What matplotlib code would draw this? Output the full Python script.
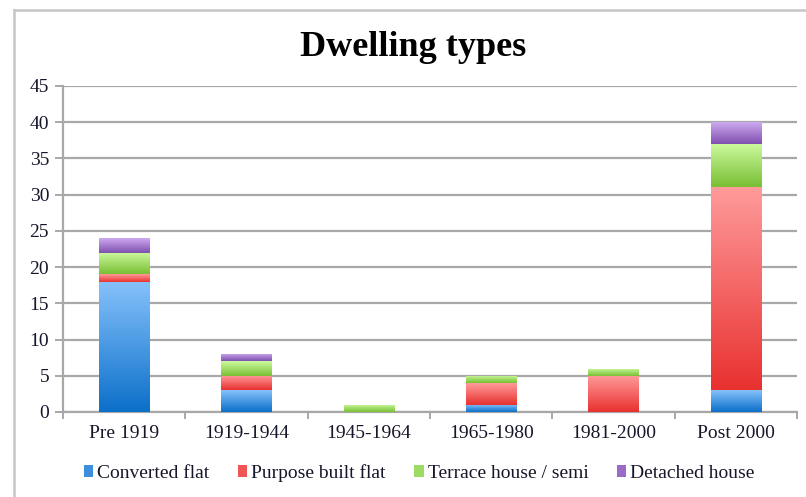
import numpy as np
import matplotlib
matplotlib.use("Agg")
import matplotlib.pyplot as plt
from matplotlib.colors import LinearSegmentedColormap
from matplotlib.patches import Patch
from matplotlib.lines import Line2D

categories = ["Pre 1919", "1919-1944", "1945-1964", "1965-1980", "1981-2000", "Post 2000"]
converted_flat = [18, 3, 0, 1, 0, 3]
purpose_built_flat = [1, 2, 0, 3, 5, 28]
terrace_semi = [3, 2, 1, 1, 1, 6]
detached_house = [2, 1, 0, 0, 0, 3]

series_names = ["Converted flat", "Purpose built flat", "Terrace house / semi", "Detached house"]
series_values = [converted_flat, purpose_built_flat, terrace_semi, detached_house]
# (top colour, bottom colour) of each segment's vertical gradient
series_gradients = [
    ("#86c2fb", "#0b6fc9"),
    ("#ff9b9b", "#e8312f"),
    ("#cdfa9f", "#78bf33"),
    ("#cdaaf0", "#7f4fae"),
]
legend_colors = ["#3d8fde", "#f05454", "#9edb62", "#9a6cc8"]

text_color = "#16162a"
grid_color = "#a8a8a8"
font = "Liberation Serif"

fig = plt.figure(figsize=(8.06, 4.97), dpi=100)
ax = fig.add_axes([63 / 806, 1 - 412 / 497, (797 - 63) / 806, (412 - 86) / 497])

x = np.arange(len(categories))
bottom = np.zeros(len(categories))
width = 0.41


def gradient_fill(patch, top_color, bottom_color):
    x0, y0 = patch.get_x(), patch.get_y()
    w, h = patch.get_width(), patch.get_height()
    if h <= 0:
        return
    cmap = LinearSegmentedColormap.from_list("seg", [bottom_color, top_color])
    grad = np.linspace(0, 1, 256).reshape(-1, 1)
    im = ax.imshow(grad, cmap=cmap, extent=[x0, x0 + w, y0, y0 + h],
                   origin="lower", aspect="auto", zorder=3, interpolation="bilinear")
    im.set_clip_path(patch)


for vals, (top_c, bot_c) in zip(series_values, series_gradients):
    bars = ax.bar(x, vals, width=width, bottom=bottom, color="none",
                  edgecolor="none", zorder=3)
    for patch in bars:
        gradient_fill(patch, top_c, bot_c)
    bottom += np.array(vals)

ax.set_xlim(-0.5, len(categories) - 0.5)
ax.set_ylim(0, 45)
ax.set_yticks(np.arange(0, 46, 5))
ax.yaxis.grid(True, color=grid_color, linewidth=1.6, zorder=0)
ax.set_axisbelow(True)

for side in ["top", "right"]:
    ax.spines[side].set_visible(False)
for side in ["left", "bottom"]:
    ax.spines[side].set_color(grid_color)
    ax.spines[side].set_linewidth(1.6)

ax.set_xticks(x)
ax.set_xticklabels(categories)
ax.set_xticks(np.arange(-0.5, len(categories)), minor=True)
ax.tick_params(axis="x", which="major", length=0, pad=9, labelsize=14,
               labelcolor=text_color)
ax.tick_params(axis="x", which="minor", length=5, width=1.4, color=grid_color)
ax.tick_params(axis="y", length=6, width=1.4, color=grid_color, pad=4,
               labelsize=14, labelcolor=text_color)
for lbl in ax.get_xticklabels() + ax.get_yticklabels():
    lbl.set_fontfamily(font)

fig.text(0.513, 1 - 47 / 497, "Dwelling types", ha="center", va="center",
         fontsize=26, fontweight="bold", color="black", fontfamily=font)

handles = [Patch(facecolor=c, edgecolor="none") for c in legend_colors]
fig.legend(handles, series_names, loc="center", bbox_to_anchor=(0.52, 1 - 473 / 497),
           ncol=4, frameon=False, handlelength=0.5, handleheight=0.5,
           handletextpad=0.2, columnspacing=1.45,
           prop={"family": font, "size": 14}, labelcolor=text_color)

# outer frame (left and top edges visible)
border = "#c6c6c6"
fig.add_artist(Line2D([14 / 806, 14 / 806], [0, 1 - 10 / 497], transform=fig.transFigure,
                      color=border, linewidth=1.8))
fig.add_artist(Line2D([14 / 806, 1], [1 - 10 / 497, 1 - 10 / 497], transform=fig.transFigure,
                      color=border, linewidth=1.8))

fig.savefig("out.png", dpi=100, facecolor="white")
